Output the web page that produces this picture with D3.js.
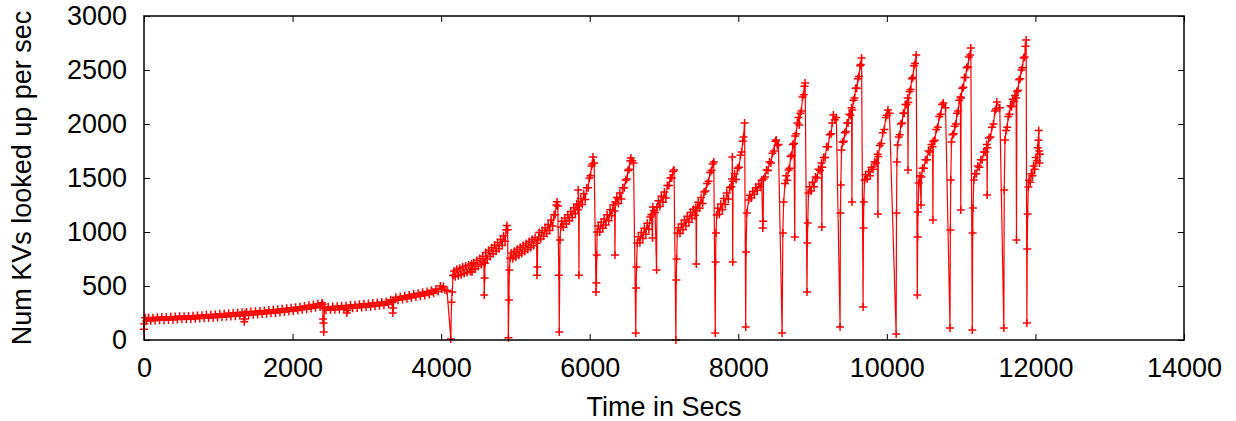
<!DOCTYPE html>
<html>
<head>
<meta charset="utf-8">
<script src="https://cdn.jsdelivr.net/npm/d3@7"></script>
<style>
  body { margin: 0; background: #fff; }
  text { font-family: "Liberation Sans", Arial, sans-serif; fill: #000; }
</style>
</head>
<body>
<svg id="chart" width="1236" height="421"></svg>
<script>
// axis ticks
var xTicks = [0, 2000, 4000, 6000, 8000, 10000, 12000, 14000]
var yTicks = [0, 500, 1000, 1500, 2000, 2500, 3000]

// [seconds, KVs looked up per sec]
var warmup = [[0,100],[5,150],[15,205],[30,175],[60,208],[90,178],[120,206],[150,180],[180,210],[210,182],
  [240,212],[270,184],[300,214],[330,186],[360,215],[390,188],[420,217],[450,190],[480,219],[510,191],
  [540,221],[570,193],[600,223],[630,195],[660,225],[690,197],[720,228],[750,199],[780,230],[810,201],
  [840,233],[870,204],[900,236],[930,207],[960,239],[990,209],[1020,242],[1050,212],[1080,245],[1110,215],
  [1140,248],[1170,218],[1200,251],[1230,221],[1260,254],[1290,224],[1320,257],[1345,228],[1350,170],[1355,195],
  [1360,245],[1380,260],[1410,230],[1440,263],[1470,234],[1500,266],[1530,237],[1560,270],[1590,240],[1620,273],
  [1650,244],[1680,277],[1710,248],[1740,281],[1770,251],[1800,285],[1830,255],[1860,289],[1890,259],[1920,294],
  [1950,264],[1980,299],[2010,268],[2040,304],[2070,273],[2100,309],[2130,279],[2160,315],[2190,285],[2220,321],
  [2250,291],[2280,328],[2310,298],[2340,335],[2370,306],[2395,345],[2405,330],[2410,195],[2415,157],[2420,74],
  [2430,290]]

var phaseB = [[2450,275],[2480,308],[2510,278],[2540,310],[2570,280],[2600,313],[2630,283],[2660,316],[2690,286],
  [2720,320],[2730,250],[2735,272],[2750,290],[2780,323],[2810,293],[2840,327],[2870,297],[2900,331],[2930,301],
  [2960,335],[2990,305],[3020,339],[3050,309],[3080,343],[3110,313],[3140,347],[3170,317],[3200,352],[3230,322],
  [3260,357],[3290,330],[3320,372],[3340,350],[3350,250],[3355,296],[3360,362],[3390,395],[3420,367],[3450,402],
  [3480,375],[3510,410],[3540,382],[3570,417],[3600,390],[3630,425],[3660,397],[3690,433],[3720,405],[3750,441],
  [3780,413],[3810,450],[3840,422],[3870,460],[3900,432],[3930,472],[3960,448],[3990,500],[4010,470],[4030,495],
  [4050,465],[4080,455],[4130,10],[4140,350],[4150,445]]

var c01 = [[4160,600],[4175,640],[4190,585],[4210,655],[4230,595],[4250,665],[4270,605],[4290,675],[4310,615],
  [4330,685],[4350,625],[4370,695],[4390,635],[4410,705],[4415,630],[4420,650],[4440,715],[4460,660],[4480,735],
  [4500,680],[4520,755],[4540,698],[4560,775],[4575,720],[4580,416],[4585,574],[4590,710],[4600,810],[4620,750],
  [4640,830],[4660,772],[4680,855],[4700,798],[4720,878],[4740,822],[4760,902],[4780,846],[4800,930],[4820,875],
  [4840,965],[4860,915],[4875,1020],[4885,1060],[4895,1020],[4905,20],[4912,370],[4918,648]]

var c02 = [[4930,760],[4945,805],[4965,752],[4985,822],[5005,768],[5025,840],[5045,785],[5065,858],[5085,802],
  [5105,876],[5125,820],[5145,894],[5165,838],[5185,912],[5205,856],[5225,930],[5245,875],[5265,950],[5285,895],
  [5290,600],[5295,676],[5300,925],[5320,995],[5340,938],[5360,1015],[5380,960],[5400,1040],[5420,985],
  [5440,1070],[5460,1015],[5480,1110],[5500,1055],[5520,1160],[5535,1160],[5550,1250],[5560,1280],[5570,1240],
  [5585,600],[5590,74],[5600,926]]

var c03 = [[5610,1046],[5625,1100],[5645,1045],[5665,1130],[5685,1075],[5705,1160],[5725,1105],[5745,1190],
  [5765,1135],[5785,1225],[5805,1170],[5825,1260],[5840,1205],[5845,1389],[5850,1240],[5855,600],[5860,1250],
  [5880,1310],[5900,1255],[5920,1355],[5940,1300],[5960,1410],[5980,1410],[5995,1500],[6010,1520],[6025,1610],
  [6035,1630],[6045,1695],[6060,1640],[6085,445],[6090,528],[6095,787]]

var c04 = [[6100,1000],[6115,1055],[6135,1000],[6155,1090],[6175,1035],[6195,1120],[6215,1065],[6235,1160],
  [6255,1105],[6275,1205],[6295,1150],[6315,1250],[6335,1195],[6340,787],[6345,1278],[6365,1320],[6385,1265],
  [6405,1360],[6425,1305],[6445,1410],[6465,1410],[6485,1480],[6500,1490],[6515,1570],[6530,1580],[6545,1660],
  [6555,1685],[6570,1660],[6590,1640],[6620,65],[6625,481],[6630,676]]

var c05 = [[6640,898],[6655,955],[6675,900],[6695,995],[6715,940],[6735,1035],[6755,980],[6775,1080],
  [6795,1025],[6815,1140],[6830,1160],[6845,944],[6850,1232],[6865,1200],[6880,1180],[6900,648],[6905,1230],
  [6925,1290],[6945,1235],[6965,1330],[6985,1275],[7005,1370],[7025,1315],[7045,1430],[7065,1430],[7085,1500],
  [7105,1500],[7120,1560],[7135,1574],[7160,0],[7165,555],[7170,750]]

var c06 = [[7180,991],[7195,1040],[7215,985],[7235,1075],[7255,1020],[7275,1110],[7295,1055],[7315,1145],
  [7335,1090],[7355,1180],[7375,1125],[7395,1210],[7415,1155],[7430,1230],[7435,704],[7440,1200],[7460,1275],
  [7480,1220],[7500,1320],[7520,1265],[7540,1370],[7560,1380],[7580,1450],[7600,1470],[7620,1550],[7640,1570],
  [7655,1630],[7670,1648],[7690,65],[7695,722],[7700,991]]

var c07 = [[7710,1157],[7725,1220],[7745,1165],[7765,1260],[7785,1205],[7805,1310],[7825,1255],[7845,1360],
  [7865,1305],[7885,1410],[7905,1420],[7915,1490],[7920,1694],[7925,722],[7930,1470],[7950,1540],[7970,1485],
  [7990,1590],[8010,1600],[8030,1710],[8045,1740],[8060,1840],[8070,1880],[8085,2009],[8100,120],[8105,815],
  [8115,1176]]

var c08 = [[8140,1296],[8155,1340],[8175,1315],[8195,1375],[8215,1350],[8235,1410],[8255,1385],[8275,1445],
  [8295,1420],[8315,1480],[8330,1037],[8335,1100],[8340,1490],[8360,1510],[8380,1575],[8400,1570],[8420,1650],
  [8440,1640],[8460,1730],[8480,1750],[8500,1840],[8510,1852],[8525,1800],[8540,1810],[8590,65],[8600,991],
  [8610,1278]]

var c09 = [[8630,1450],[8645,1520],[8660,1480],[8675,1575],[8690,1590],[8705,1700],[8720,1710],[8735,1810],
  [8750,1820],[8760,954],[8765,1890],[8780,1910],[8795,2010],[8810,2060],[8820,1990],[8835,2100],[8850,2120],
  [8865,2250],[8880,2270],[8890,2350],[8900,2380],[8925,445],[8930,898],[8935,1083]]

var c10 = [[8945,1361],[8960,1420],[8980,1380],[9000,1460],[9020,1420],[9040,1510],[9060,1500],[9080,1580],
  [9100,1570],[9120,1640],[9125,1046],[9130,1600],[9150,1690],[9170,1690],[9190,1790],[9210,1790],[9230,1900],
  [9250,1910],[9265,2010],[9280,2083],[9300,2040],[9320,2060],[9370,120],[9375,1176],[9380,1435]]

var c11 = [[9390,1759],[9405,1830],[9420,1840],[9435,1920],[9450,1930],[9465,2010],[9480,2010],[9495,2090],
  [9510,2080],[9525,2150],[9530,1278],[9535,2130],[9550,2220],[9565,2240],[9580,2330],[9595,2330],[9610,2420],
  [9625,2440],[9640,2540],[9650,2550],[9660,2611],[9680,306],[9685,1037],[9690,1278]]

var c12 = [[9700,1481],[9715,1530],[9735,1490],[9755,1560],[9775,1520],[9795,1600],[9815,1580],[9835,1650],
  [9855,1640],[9875,1720],[9880,1167],[9885,1700],[9905,1800],[9925,1820],[9945,1920],[9965,1950],[9985,2060],
  [10000,2080],[10015,2130],[10035,2100],[10125,56],[10130,1176],[10135,1648]]

var c13 = [[10145,1805],[10160,1880],[10175,1900],[10190,2000],[10205,2010],[10220,2100],[10235,2100],
  [10250,2180],[10265,2180],[10280,2240],[10285,1574],[10290,2200],[10305,2300],[10320,2320],[10335,2420],
  [10350,2430],[10365,2540],[10380,2560],[10395,2639],[10410,417],[10415,954],[10420,1185]]

var c14 = [[10430,1454],[10445,1520],[10460,1250],[10465,1510],[10480,1590],[10500,1590],[10520,1670],
  [10540,1670],[10560,1750],[10580,1740],[10600,1810],[10615,1790],[10620,1111],[10625,1840],[10645,1850],
  [10665,1950],[10685,1970],[10705,2070],[10725,2090],[10745,2180],[10760,2194],[10790,2150],[10850,111],
  [10855,1018],[10860,1481]]

var c15 = [[10870,1833],[10885,1900],[10900,1910],[10915,1980],[10930,2000],[10945,2100],[10960,2120],
  [10975,2220],[10990,2250],[10995,1204],[11000,2240],[11015,2330],[11030,2340],[11045,2430],[11060,2430],
  [11075,2520],[11090,2530],[11105,2620],[11120,2640],[11130,2704],[11150,93],[11155,991],[11160,1222]]

var c16 = [[11170,1481],[11185,1540],[11205,1540],[11225,1610],[11245,1600],[11265,1670],[11285,1670],
  [11305,1740],[11325,1740],[11345,1810],[11350,1343],[11355,1780],[11375,1870],[11395,1880],[11415,1970],
  [11435,2000],[11455,2120],[11470,2140],[11480,2204],[11520,2150],[11575,111],[11580,1389]]

var c17 = [[11590,1852],[11605,1940],[11620,1970],[11635,2070],[11650,2090],[11665,2170],[11680,2160],
  [11695,2230],[11710,2210],[11725,2265],[11740,2240],[11745,926],[11750,2300],[11765,2310],[11780,2410],
  [11795,2420],[11810,2500],[11825,2520],[11840,2610],[11855,2620],[11865,2720],[11875,2778],[11885,157],
  [11890,843],[11895,1167]]

var c18 = [[11905,1417],[11915,1480],[11930,1460],[11945,1540],[11960,1520],[11975,1610],[11990,1580],
  [12005,1690],[12020,1660],[12030,1780],[12040,1850],[12045,1940],[12050,1750],[12055,1640],[12060,1720]]

var series = [].concat(warmup, phaseB, c01, c02, c03, c04, c05, c06, c07, c08, c09,
  c10, c11, c12, c13, c14, c15, c16, c17, c18)

var margin = {top: 16, left: 144, right: 52, bottom: 81},
    width = 1236 - margin.left - margin.right,
    height = 421 - margin.top - margin.bottom;

var svg = d3.select("#chart")
var g = svg.append("g")
  .attr("transform", "translate(" + margin.left + "," + margin.top + ")")

var x = d3.scaleLinear().domain([0, 14000]).range([0, width])
var y = d3.scaleLinear().domain([0, 3000]).range([height, 0])

// axes, gnuplot style: ticks inside, mirrored on top/right
g.append("g")
  .attr("transform", "translate(0," + height + ")")
  .call(d3.axisBottom(x).tickValues(xTicks).tickSize(-6).tickPadding(18).tickFormat(d3.format("d")))
g.append("g")
  .call(d3.axisLeft(y).tickValues(yTicks).tickSize(-6).tickPadding(17).tickFormat(d3.format("d")))
g.append("g")
  .call(d3.axisTop(x).tickValues(xTicks).tickSize(-6).tickFormat(""))
g.append("g")
  .attr("transform", "translate(" + width + ",0)")
  .call(d3.axisRight(y).tickValues(yTicks).tickSize(-6).tickFormat(""))

g.selectAll(".domain").remove()
g.selectAll(".tick line").attr("stroke", "#000").attr("stroke-width", 1)
g.selectAll(".tick text").style("font-size", "27px").attr("fill", "#000")

// data line
g.append("path")
  .datum(series)
  .attr("fill", "none")
  .attr("stroke", "#ff0000")
  .attr("stroke-width", 1.2)
  .attr("d", d3.line().x(function(d) { return x(d[0]) }).y(function(d) { return y(d[1]) }))

// '+' markers
g.append("g").selectAll("path")
  .data(series)
  .enter()
  .append("path")
  .attr("transform", function(d) { return "translate(" + x(d[0]) + "," + y(d[1]) + ")" })
  .attr("d", "M-4,0H4M0,-4V4")
  .attr("stroke", "#ff0000")
  .attr("stroke-width", 1.5)
  .attr("fill", "none")

// border
g.append("rect")
  .attr("width", width)
  .attr("height", height)
  .attr("fill", "none")
  .attr("stroke", "#000")
  .attr("stroke-width", 1.5)

// labels
svg.append("text")
  .attr("x", margin.left + width / 2)
  .attr("y", 416)
  .attr("text-anchor", "middle")
  .style("font-size", "27px")
  .text("Time in Secs")

svg.append("text")
  .attr("transform", "translate(31," + (margin.top + height / 2) + ") rotate(-90)")
  .attr("text-anchor", "middle")
  .style("font-size", "27px")
  .text("Num KVs looked up per sec")
</script>
</body>
</html>
